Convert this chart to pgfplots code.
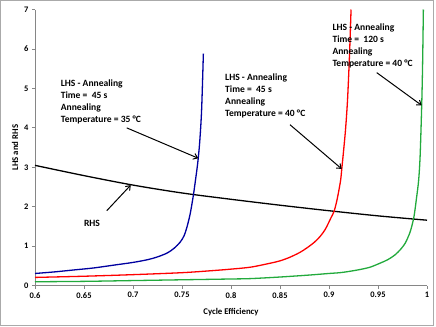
\documentclass[border=0pt]{standalone}
\usepackage{fontspec}
\setmainfont{Carlito}
\usepackage{pgfplots}
\pgfplotsset{compat=1.18}
\usetikzlibrary{arrows.meta}
\definecolor{cblue}{RGB}{0,0,160}
\definecolor{cred}{RGB}{255,0,0}
\definecolor{cgreen}{RGB}{34,170,60}
\definecolor{axgray}{RGB}{134,134,134}
\begin{document}
\begin{tikzpicture}
\useasboundingbox (0,0) rectangle (436bp,327bp);
\draw[color={rgb,255:red,170;green,170;blue,170}, line width=0.8bp] (0.7bp,1.3bp) rectangle (433.5bp,326.3bp);
\begin{axis}[
  at={(35bp,41.3bp)}, anchor=south west,
  scale only axis, width=392bp, height=276.2bp,
  xmin=0.6, xmax=1, ymin=0, ymax=7,
  axis lines*=left,
  axis line style={axgray, line width=0.8bp},
  tick style={axgray, line width=0.8bp},
  tick align=outside,
  major tick length=3bp,
  xtick={0.6,0.65,0.7,0.75,0.8,0.85,0.9,0.95,1},
  xticklabels={0.6,0.65,0.7,0.75,0.8,0.85,0.9,0.95,1},
  ytick={0,1,2,3,4,5,6,7},
  yticklabels={0,1,2,3,4,5,6,7},
  tick label style={font=\fontsize{8.5}{10}\selectfont\bfseries},
  xlabel={Cycle Efficiency},
  ylabel={LHS and RHS},
  label style={font=\fontsize{8.8}{10}\selectfont\bfseries},
  xlabel style={at={(axis description cs:0.5,-0.0963)}, anchor=center},
  ylabel style={at={(axis description cs:-0.051,0.5)}, anchor=center},
  every axis plot/.append style={line width=1.3bp, no markers},
]
% RHS
\addplot[black, smooth] coordinates {
(0.6,3.05) (0.65,2.79) (0.7,2.55) (0.75,2.35) (0.8,2.19) (0.85,2.04) (0.9,1.90) (0.95,1.77) (1.0,1.66)
};
% LHS 35 C 45 s
\addplot[cblue, smooth, tension=0.5] coordinates {
(0.600,0.31) (0.620,0.35) (0.640,0.40) (0.660,0.45) (0.680,0.52) (0.700,0.59)
(0.715,0.66) (0.725,0.73) (0.735,0.83) (0.742,0.95) (0.748,1.10) (0.752,1.26)
(0.755,1.48) (0.758,1.78) (0.760,2.05) (0.762,2.36) (0.764,2.72) (0.766,3.10)
(0.768,3.62) (0.770,4.45) (0.7718,5.88)
};
% LHS 40 C 45 s
\addplot[cred, smooth, tension=0.5] coordinates {
(0.60,0.21) (0.65,0.24) (0.70,0.28) (0.75,0.33) (0.78,0.38) (0.80,0.42)
(0.82,0.47) (0.84,0.57) (0.85,0.63) (0.86,0.72) (0.87,0.84) (0.877,0.95)
(0.885,1.10) (0.891,1.25) (0.896,1.42) (0.8993,1.58) (0.902,1.72) (0.9051,1.88)
(0.9075,2.10) (0.9095,2.34) (0.9119,2.68) (0.9130,2.95) (0.915,3.45) (0.917,4.0)
(0.919,4.75) (0.921,5.9) (0.9225,7.0)
};
% LHS 40 C 120 s
\addplot[cgreen, smooth, tension=0.5] coordinates {
(0.60,0.10) (0.65,0.11) (0.70,0.13) (0.75,0.15) (0.80,0.17) (0.82,0.18)
(0.85,0.22) (0.88,0.27) (0.90,0.31) (0.9112,0.33) (0.92,0.36) (0.9316,0.41)
(0.942,0.47) (0.952,0.57) (0.96,0.66) (0.9673,0.78) (0.973,0.92) (0.9776,1.07)
(0.981,1.25) (0.9834,1.41) (0.9867,1.75) (0.9895,2.26) (0.9915,2.68) (0.993,3.3)
(0.9946,4.57) (0.9955,5.6) (0.9963,7.0)
};
% annotations
\node[anchor=west, align=left, inner sep=0pt, font=\fontsize{9.6}{12}\selectfont\bfseries] at (axis cs:0.6262,4.65)
 {LHS - Annealing\\Time = \ 45 s\\Annealing\\Temperature = 35 °C};
\node[anchor=west, align=left, inner sep=0pt, font=\fontsize{9.6}{12}\selectfont\bfseries] at (axis cs:0.7939,4.82)
 {LHS - Annealing\\Time = \ 45 s\\Annealing\\Temperature = 40 °C};
\node[anchor=west, align=left, inner sep=0pt, font=\fontsize{9.6}{12}\selectfont\bfseries] at (axis cs:0.9034,6.07)
 {LHS - Annealing\\Time = \ 120 s\\Annealing\\Temperature = 40 °C};
\node[anchor=center, inner sep=0pt, font=\fontsize{9.6}{12}\selectfont\bfseries] at (axis cs:0.6582,1.58) {RHS};
\draw[-{Straight Barb[length=4bp,width=6bp]}, line width=1bp] (axis cs:0.6936,4.0) -- (axis cs:0.7666,3.23);
\draw[-{Straight Barb[length=4bp,width=6bp]}, line width=1bp] (axis cs:0.8602,4.08) -- (axis cs:0.9130,2.96);
\draw[-{Straight Barb[length=4bp,width=6bp]}, line width=1bp] (axis cs:0.9487,5.40) -- (axis cs:0.9946,4.57);
\draw[-{Straight Barb[length=4bp,width=6bp]}, line width=1bp] (axis cs:0.6732,1.90) -- (axis cs:0.6977,2.55);
\end{axis}
\end{tikzpicture}
\end{document}
